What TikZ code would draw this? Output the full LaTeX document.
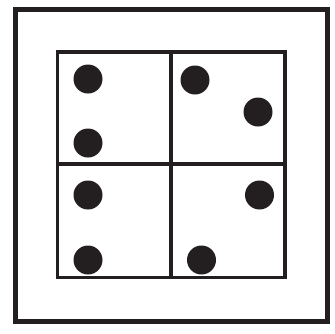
\documentclass[tikz,border=0pt]{standalone}
\begin{document}
\begin{tikzpicture}[x=1pt,y=-1pt,
  frame/.style={draw=ink,line width=5pt},
  gridline/.style={draw=ink,line width=3.8pt},
  dot/.style={circle,fill=ink,inner sep=0pt,minimum size=29pt}]
\definecolor{ink}{HTML}{231F20}
\useasboundingbox (0,0) rectangle (335,333);
\draw[frame] (15,9.5) rectangle (327,321);
\draw[gridline] (57.5,52) rectangle (285,277.5);
\coordinate (mt) at (171,52);
\coordinate (mb) at (171,277.5);
\coordinate (ml) at (57.5,164);
\coordinate (mr) at (285,164);
\draw[gridline] (mt) -- (mb);
\draw[gridline] (ml) -- (mr);
\node[dot] (d1) at (88,79) {};
\node[dot] (d2) at (88,143) {};
\node[dot] (d3) at (195,80) {};
\node[dot] (d4) at (258,112) {};
\node[dot] (d5) at (88,195) {};
\node[dot] (d6) at (88,260) {};
\node[dot] (d7) at (259.5,195) {};
\node[dot] (d8) at (201.5,260) {};
\end{tikzpicture}
\end{document}
